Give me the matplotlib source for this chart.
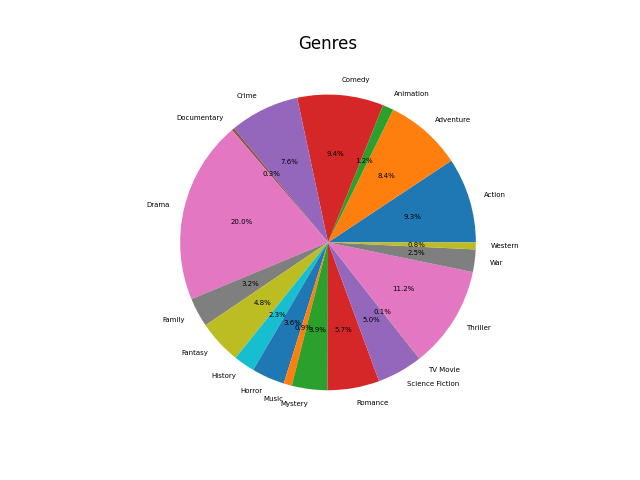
import matplotlib
matplotlib.use("Agg")
import matplotlib.pyplot as plt

genres = ['Action', 'Adventure', 'Animation', 'Comedy', 'Crime', 'Documentary',
          'Drama', 'Family', 'Fantasy', 'History', 'Horror', 'Music', 'Mystery',
          'Romance', 'Science Fiction', 'TV Movie', 'Thriller', 'War', 'Western']
shares = [9.32, 8.42, 1.2, 9.42, 7.62, 0.3, 20.02, 3.2, 4.8, 2.3, 3.6, 0.9, 3.9,
          5.66, 4.96, 0.06, 11.16, 2.46, 0.76]

fig = plt.figure(figsize=(6.4, 4.8), dpi=100)
plt.pie(shares, labels=genres, autopct='%1.1f%%', textprops={'fontsize': 5})
plt.title('Genres')
plt.savefig('out.png')
